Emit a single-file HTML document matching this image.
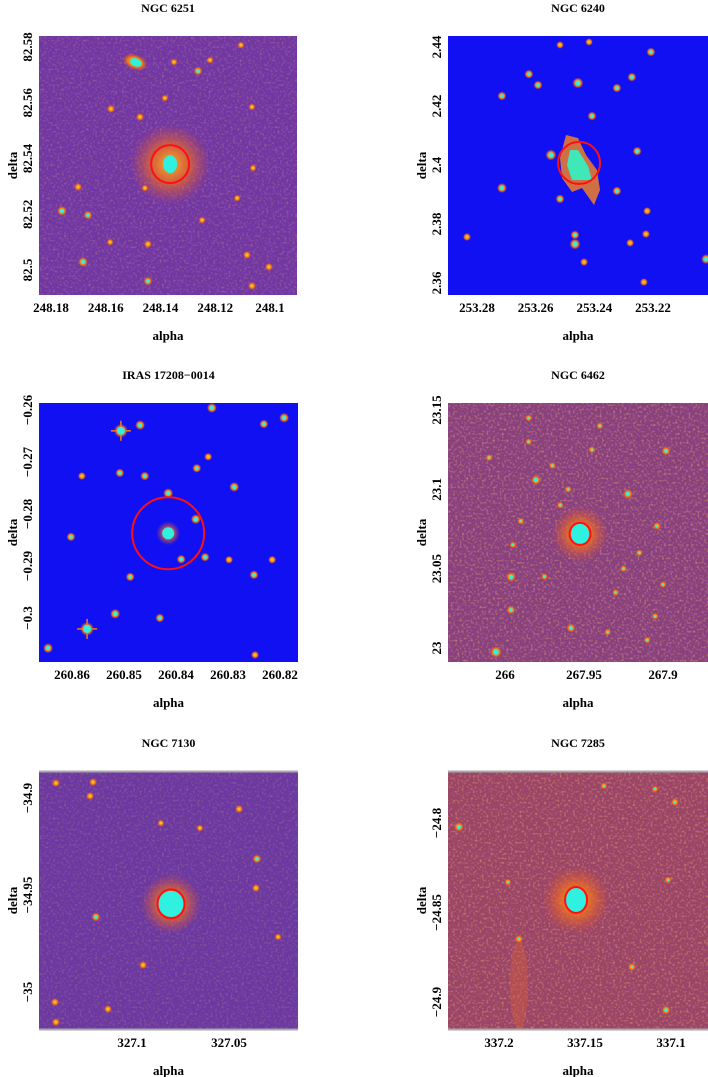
<!DOCTYPE html>
<html><head><meta charset="utf-8"><title>Galaxy fields</title>
<style>
html,body{margin:0;padding:0;background:#fff;}
svg{display:block;}
text{font-family:"Liberation Serif",serif;font-weight:bold;fill:#000;}
</style></head>
<body>
<svg id="fig" width="708" height="1077" viewBox="0 0 708 1077" xmlns="http://www.w3.org/2000/svg">
<defs>
<filter id="tex" x="0" y="0" width="100%" height="100%">
<feTurbulence type="fractalNoise" baseFrequency="0.45" numOctaves="1" seed="3" result="n"/>
<feColorMatrix type="matrix" values="0 0 0 0 0.95  0 0 0 0 0.42  0 0 0 0 0.15  0 0 0 1.6 -0.8"/>
</filter>
<filter id="texb" x="0" y="0" width="100%" height="100%">
<feTurbulence type="fractalNoise" baseFrequency="0.4" numOctaves="1" seed="9" result="n"/>
<feColorMatrix type="matrix" values="0 0 0 0 0.3  0 0 0 0 0.15  0 0 0 0 0.85  0 0 0 1.6 -0.85"/>
</filter>
<radialGradient id="glow"><stop offset="0" stop-color="#ffb020" stop-opacity="1"/><stop offset="0.45" stop-color="#f07020" stop-opacity="0.75"/><stop offset="1" stop-color="#e05030" stop-opacity="0"/></radialGradient>
<radialGradient id="halo"><stop offset="0" stop-color="#ffd030"/><stop offset="0.6" stop-color="#f07818"/><stop offset="1" stop-color="#e05020" stop-opacity="0"/></radialGradient>
</defs>
</svg>
<script>
// ---- Panel 1 : NGC 6251 ----
const P1_ALPHA=[248.1493,248.1263,248.1351,248.1219,248.1106,248.1581,248.1475,248.1384,248.1066,248.1701,248.176,248.1665,248.1457,248.1584,248.1446,248.1683,248.1446,248.1248,248.1084,248.1062,248.1004,248.1066,248.112];
const P1_DELTA=[82.5746,82.5714,82.5746,82.5753,82.5807,82.5578,82.5549,82.5617,82.5585,82.5298,82.5212,82.5197,82.5294,82.51,82.5093,82.5029,82.496,82.5179,82.5054,82.5366,82.5011,82.4943,82.5258];
const P1_SIZE=[5,2.5,1.5,1.5,1.5,2,2,1.5,1.5,2,3,2.5,1.5,1.5,2,3,2.5,1.5,2,1.5,2,2,1.5];
const P1_MAIN=[248.1365,82.538];
const P1_XTICKS=[248.18,248.16,248.14,248.12,248.1];
const P1_XLABELS=["248.18","248.16","248.14","248.12","248.1"];
const P1_YTICKS=[82.58,82.56,82.54,82.52,82.5];
const P1_YLABELS=["82.58","82.56","82.54","82.52","82.5"];
// ---- Panel 2 : NGC 6240 ----
const P2_ALPHA=[253.2548,253.2456,253.2207,253.2715,253.2466,253.2466,253.2517,253.2323,253.2254,253.222,253.2224,253.2272,253.2323,253.2408,253.2592,253.2623,253.2715,253.2834,253.2435,253.2231,253.2019,253.2517,253.2418,253.2278];
const P2_DELTA=[2.4034,2.4278,2.4383,2.3922,2.3732,2.3763,2.3885,2.3912,2.4047,2.3844,2.3766,2.4298,2.4261,2.4166,2.4271,2.4308,2.4234,2.3756,2.3671,2.3603,2.3681,2.4407,2.4417,2.3736];
const P2_SIZE=[3.5,3.5,2.5,3,3.5,2.5,2.5,2.5,2.5,2,2,2.5,2.5,2.5,2.5,2.5,2.5,2,2,2,3,1.8,1.8,2];
const P2_MAIN=[253.2452,2.4007];
const P2_XTICKS=[253.28,253.26,253.24,253.22];
const P2_XLABELS=["253.28","253.26","253.24","253.22"];
const P2_YTICKS=[2.44,2.42,2.4,2.38,2.36];
const P2_YLABELS=["2.44","2.42","2.4","2.38","2.36"];
// ---- Panel 3 : IRAS 17208-0014 ----
const P3_ALPHA=[260.8506,260.8571,260.8415,260.8469,260.8331,260.8192,260.8231,260.8362,260.8288,260.836,260.8338,260.846,260.8508,260.8581,260.8517,260.8646,260.8431,260.825,260.8344,260.839,260.8488,260.8602,260.8215,260.8298,260.8248];
const P3_DELTA=[-0.264,-0.3021,-0.276,-0.2629,-0.2596,-0.2615,-0.2627,-0.281,-0.2748,-0.2712,-0.269,-0.2727,-0.2721,-0.2727,-0.2992,-0.3058,-0.3,-0.2917,-0.2883,-0.2887,-0.2921,-0.2844,-0.2888,-0.2888,-0.3071];
const P3_SIZE=[5,5,3,3,3,3,2.5,3,3,2.5,2,2.5,2.5,2,3,3,2.5,2.5,2.5,2.5,2.5,2.5,2,2,2];
const P3_MAIN=[260.8415,-0.2837];
const P3_XTICKS=[260.86,260.85,260.84,260.83,260.82];
const P3_XLABELS=["260.86","260.85","260.84","260.83","260.82"];
const P3_YTICKS=[-0.26,-0.27,-0.28,-0.29,-0.3];
const P3_YLABELS=["\u22120.26","\u22120.27","\u22120.28","\u22120.29","\u22120.3"];
// ---- Panel 4 : NGC 6482 ----
const P4_ALPHA=[267.9804,267.9222,267.9962,268.0057,267.9962,267.9582,267.8981,267.9038,267.985,267.94,267.915,267.97,267.99,267.93,267.905,267.96,268.01,267.975,267.925,267.945,267.995,267.91,267.965,267.935,267.985,267.9];
const P4_DELTA=[23.1059,23.0971,23.0448,22.9975,23.024,23.0126,23.1242,23.0769,23.13,23.14,23.06,23.115,23.08,23.035,23.02,23.1,23.12,23.045,23.05,23.125,23.065,23.005,23.09,23.01,23.145,23.04];
const P4_SIZE=[3,3,3,4,2.5,2.5,2.5,2,1.5,1.5,1.5,1.5,1.5,1.5,1.5,1.5,1.5,1.5,1.5,1.5,1.5,1.5,1.5,1.5,1.5,1.5];
const P4_MAIN=[267.9525,23.0719];
const P4_XTICKS=[268,267.95,267.9];
const P4_XLABELS=["266","267.95","267.9"];
const P4_YTICKS=[23.15,23.1,23.05,23];
const P4_YLABELS=["23.15","23.1","23.05","23"];
// ---- Panel 5 : NGC 7130 ----
const P5_ALPHA=[327.1392,327.1201,327.1216,327.0448,327.0356,327.0361,327.1186,327.0943,327.1397,327.1392,327.1124,327.0851,327.065,327.0247];
const P5_DELTA=[-34.8923,-34.8918,-34.899,-34.9057,-34.9314,-34.9464,-34.9613,-34.9861,-35.0052,-35.0155,-35.0088,-34.9129,-34.9155,-34.9716];
const P5_SIZE=[2,2,2,2,2.5,2,2.5,2,2,2,2,1.5,1.5,1.5];
const P5_MAIN=[327.0799,-34.9546];
const P5_XTICKS=[327.1,327.05];
const P5_XLABELS=["327.1","327.05"];
const P5_YTICKS=[-34.9,-34.95,-35];
const P5_YLABELS=["\u221234.9","\u221234.95","\u221235"];
// ---- Panel 6 : NGC 7285 ----
const P6_ALPHA=[337.2233,337.139,337.1093,337.0977,337.1227,337.1029,337.1884,337.1948,337.1017];
const P6_DELTA=[-24.8022,-24.7793,-24.781,-24.7883,-24.8804,-24.9045,-24.8648,-24.833,-24.8318];
const P6_SIZE=[3,1.5,1.5,2,2,2.5,2,1.5,1.5];
const P6_MAIN=[337.1552,-24.843];
const P6_XTICKS=[337.2,337.15,337.1];
const P6_XLABELS=["337.2","337.15","337.1"];
const P6_YTICKS=[-24.8,-24.85,-24.9];
const P6_YLABELS=["\u221224.8","\u221224.85","\u221224.9"];

const NS="http://www.w3.org/2000/svg";
const svg=document.getElementById('fig');
function mk(tag,attrs,parent){const e=document.createElementNS(NS,tag);for(const k in attrs)e.setAttribute(k,attrs[k]);(parent||svg).appendChild(e);return e;}

const panels=[
 {id:1,title:"NGC 6251",x:39,y:36,w:258,h:259,bg:"#7036a2",tex:0.6,texb:0.5,a:[248.18,51,248.1,270],d:[82.58,47,82.5,270],
  al:P1_ALPHA,dl:P1_DELTA,sz:P1_SIZE,main:P1_MAIN,xt:P1_XTICKS,xl:P1_XLABELS,yt:P1_YTICKS,yl:P1_YLABELS,glowR:40,core:[7,9],ring:[19,19],frame:false},
 {id:2,title:"NGC 6240",x:448,y:36,w:260,h:259,bg:"#1010f2",tex:0,texb:0,a:[253.28,477,253.22,653],d:[2.44,47,2.36,283],
  al:P2_ALPHA,dl:P2_DELTA,sz:P2_SIZE,main:P2_MAIN,xt:P2_XTICKS,xl:P2_XLABELS,yt:P2_YTICKS,yl:P2_YLABELS,glowR:0,core:[0,0],ring:[21,21],frame:false},
 {id:3,title:"IRAS 17208\u22120014",x:39,y:403,w:259,h:259,bg:"#1010f2",tex:0,texb:0,a:[260.86,72,260.82,280],d:[-0.26,410,-0.3,618],
  al:P3_ALPHA,dl:P3_DELTA,sz:P3_SIZE,main:P3_MAIN,xt:P3_XTICKS,xl:P3_XLABELS,yt:P3_YTICKS,yl:P3_YLABELS,glowR:12,core:[6,6],ring:[36,36],frame:false},
 {id:4,title:"NGC 6462",x:448,y:403,w:260,h:259,bg:"#88407c",tex:1,texb:0.5,a:[268,505,267.9,663],d:[23.15,410,23,648],
  al:P4_ALPHA,dl:P4_DELTA,sz:P4_SIZE,main:P4_MAIN,xt:P4_XTICKS,xl:P4_XLABELS,yt:P4_YTICKS,yl:P4_YLABELS,glowR:28,core:[9,11],ring:[10.5,11],frame:false},
 {id:5,title:"NGC 7130",x:39,y:771,w:259,h:259,bg:"#6a38a0",tex:0.5,texb:0.4,a:[327.1,132,327.05,229],d:[-34.9,798,-35,992],
  al:P5_ALPHA,dl:P5_DELTA,sz:P5_SIZE,main:P5_MAIN,xt:P5_XTICKS,xl:P5_XLABELS,yt:P5_YTICKS,yl:P5_YLABELS,glowR:30,core:[13,13],ring:[13.5,14.5],frame:true},
 {id:6,title:"NGC 7285",x:448,y:771,w:260,h:259,bg:"#9a4466",tex:1,texb:0.3,a:[337.2,499,337.1,671],d:[-24.8,823,-24.9,1002],
  al:P6_ALPHA,dl:P6_DELTA,sz:P6_SIZE,main:P6_MAIN,xt:P6_XTICKS,xl:P6_XLABELS,yt:P6_YTICKS,yl:P6_YLABELS,glowR:34,core:[11,12],ring:[11,13],frame:true}
];

panels.forEach(p=>{
  const xs=v=>p.a[1]+(v-p.a[0])*(p.a[3]-p.a[1])/(p.a[2]-p.a[0]);
  const ys=v=>p.d[1]+(v-p.d[0])*(p.d[3]-p.d[1])/(p.d[2]-p.d[0]);
  const g=mk('g',{});
  
  
  const cp=mk('clipPath',{id:'cp'+p.id},g);
  mk('rect',{x:p.x,y:p.y,width:p.w,height:p.h},cp);
  const img=mk('g',{'clip-path':'url(#cp'+p.id+')'},g);
  
  
  mk('rect',{x:p.x,y:p.y,width:p.w,height:p.h,fill:p.bg},img);
  if(p.tex>0){mk('rect',{x:p.x,y:p.y,width:p.w,height:p.h,filter:'url(#tex)',opacity:p.tex},img);}
  if(p.texb>0){mk('rect',{x:p.x,y:p.y,width:p.w,height:p.h,filter:'url(#texb)',opacity:p.texb},img);}
  const mx=xs(p.main[0]), my=ys(p.main[1]);
  if(p.glowR>0){mk('circle',{cx:mx,cy:my,r:p.glowR,fill:'url(#glow)'},img);}
  if(p.id===6){
    mk('ellipse',{cx:519,cy:985,rx:9,ry:45,fill:'#e06030',opacity:0.35},img);
  }
  if(p.id===2){
    mk('path',{d:'M566 135 L578 138 L586 155 L597 170 L600 190 L594 205 L582 188 L572 192 L562 178 L560 158 Z',fill:'#f08028',opacity:0.85},img);
    mk('path',{d:'M570 150 L578 150 L588 166 L592 180 L582 180 L572 180 L567 165 Z',fill:'#40e8b8'},img);
  }
  p.al.forEach((a,i)=>{
    const cx=xs(a), cy=ys(p.dl[i]), s=p.sz[i];
    const st=mk('g',{},img);
    
    
    if(p.id===1&&i===0){
      mk('ellipse',{cx:cx,cy:cy,rx:13,ry:8,fill:'url(#halo)',transform:`rotate(20 ${cx} ${cy})`},st);
      mk('ellipse',{cx:cx+1,cy:cy,rx:6,ry:4,fill:'#30f0d8',transform:`rotate(20 ${cx} ${cy})`},st);
      return;
    }
    mk('circle',{cx:cx,cy:cy,r:s+2,fill:'url(#halo)'},st);
    if(s>=2.5) mk('circle',{cx:cx,cy:cy,r:s*0.7,fill:'#30f0e0'},st);
    else mk('rect',{x:cx-1,y:cy-1,width:2,height:2,fill:(p.id===4||p.id===6)?'#30f0e0':'#ffc020'},st);
    if(s>=5){
      mk('rect',{x:cx-0.8,y:cy-s*2,width:1.6,height:s*4,fill:'#f07020'},st);
      mk('rect',{x:cx-s*2,y:cy-0.8,width:s*4,height:1.6,fill:'#f07020'},st);
      mk('circle',{cx:cx,cy:cy,r:s*0.8,fill:'#30f0e0'},st);
    }
  });
  if(p.core[0]>0){
    const c=mk('ellipse',{cx:mx,cy:my,rx:p.core[0],ry:p.core[1],fill:'#30f0e0'},img);
    
    
  }
  const ring=mk('ellipse',{cx:mx,cy:my,rx:p.ring[0],ry:p.ring[1],fill:'none',stroke:'#ff1010','stroke-width':2},img);
  
  
  if(p.frame){
    mk('line',{x1:p.x,y1:p.y+0.5,x2:p.x+p.w,y2:p.y+0.5,stroke:'#aaa','stroke-width':2},g);
    mk('line',{x1:p.x,y1:p.y+p.h-0.5,x2:p.x+p.w,y2:p.y+p.h-0.5,stroke:'#aaa','stroke-width':2},g);
  }
  const t=mk('text',{x:p.x+p.w/2,y:p.y-24,'text-anchor':'middle','font-size':12},g);
  t.textContent=p.title;
  
  
  p.xt.forEach((v,i)=>{
    const tx=mk('text',{x:xs(v),y:p.y+p.h+17,'text-anchor':'middle','font-size':13},g);
    tx.textContent=p.xl[i];
    
    
  });
  const ylx=p.x-7;
  p.yt.forEach((v,i)=>{
    const yy=ys(v);
    const ty=mk('text',{x:ylx,y:yy,'text-anchor':'middle','font-size':13,transform:`rotate(-90 ${ylx} ${yy})`},g);
    ty.textContent=p.yl[i];
    
    
  });
  const xa=mk('text',{x:p.x+p.w/2,y:p.y+p.h+45,'text-anchor':'middle','font-size':13},g);
  xa.textContent='alpha';
  
  
  const yax=p.x-22, yay=p.y+p.h/2;
  const ya=mk('text',{x:yax,y:yay,'text-anchor':'middle','font-size':13,transform:`rotate(-90 ${yax} ${yay})`},g);
  ya.textContent='delta';
  
  
});
</script>
</body></html>
